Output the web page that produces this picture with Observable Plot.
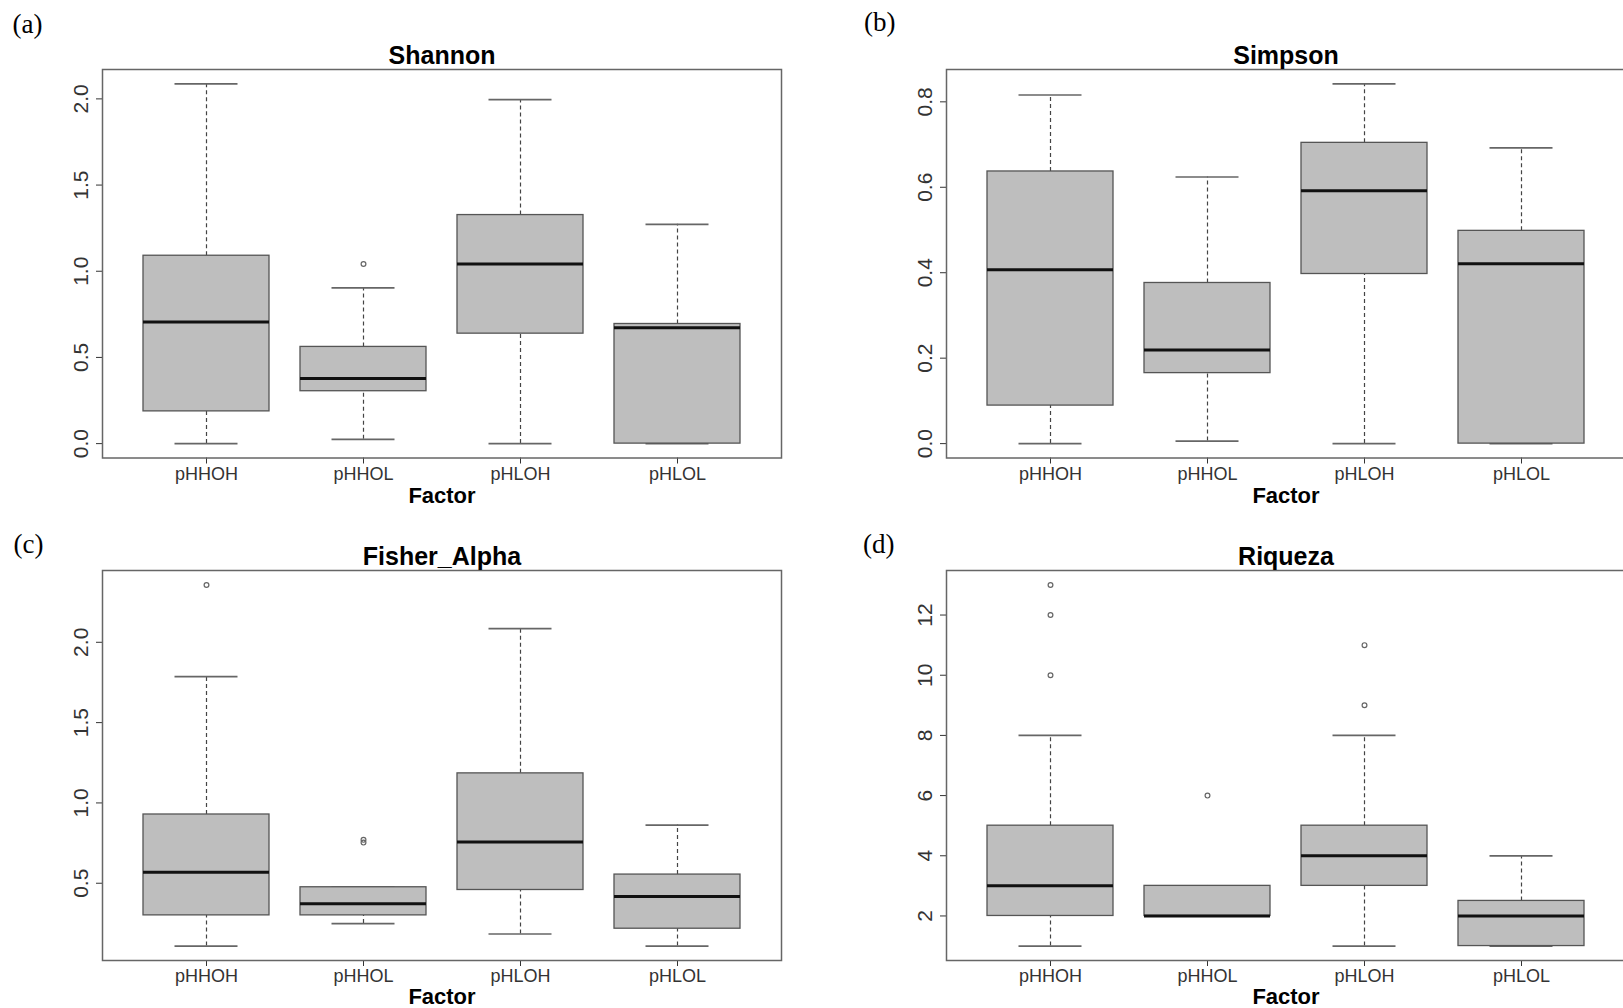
<!DOCTYPE html>
<html>
<head>
<meta charset="utf-8">
<script src="https://cdn.jsdelivr.net/npm/d3@7"></script>
<script src="https://cdn.jsdelivr.net/npm/@observablehq/plot@0.6"></script>
<style>
  html, body { margin: 0; padding: 0; background: #fff; }
  #fig { position: relative; width: 1623px; height: 1008px; overflow: hidden; background: #fff; }
  .panel { position: absolute; width: 800px; }
  .panel svg { overflow: visible; max-width: none !important; display: block; }
</style>
</head>
<body>
<div id="fig"></div>
<script>
// ---------- data ----------
const categories = ["pHHOH", "pHHOL", "pHLOH", "pHLOL"];

// Shannon
const shannonLow    = [0.000, 0.025, 0.000, 0.000];
const shannonQ1     = [0.187, 0.304, 0.638, 0.000];
const shannonMedian = [0.705, 0.378, 1.042, 0.672];
const shannonQ3     = [1.090, 0.561, 1.326, 0.694];
const shannonHigh   = [2.087, 0.904, 1.996, 1.272];
const shannonOutliers = [["pHHOL", 1.042]];
const shannonTicks = [0, 0.5, 1.0, 1.5, 2.0];

// Simpson
const simpsonLow    = [0.000, 0.006, 0.000, 0.000];
const simpsonQ1     = [0.089, 0.165, 0.397, 0.000];
const simpsonMedian = [0.407, 0.219, 0.592, 0.421];
const simpsonQ3     = [0.637, 0.376, 0.704, 0.498];
const simpsonHigh   = [0.816, 0.624, 0.842, 0.692];
const simpsonOutliers = [];
const simpsonTicks = [0, 0.2, 0.4, 0.6, 0.8];

// Fisher_Alpha
const fisherLow    = [0.109, 0.249, 0.184, 0.109];
const fisherQ1     = [0.300, 0.300, 0.458, 0.217];
const fisherMedian = [0.569, 0.373, 0.756, 0.417];
const fisherQ3     = [0.928, 0.475, 1.184, 0.554];
const fisherHigh   = [1.786, 0.475, 2.085, 0.862];
const fisherOutliers = [["pHHOH", 2.357], ["pHHOL", 0.770], ["pHHOL", 0.753]];
const fisherTicks = [0.5, 1.0, 1.5, 2.0];

// Riqueza
const riquezaLow    = [1, 2, 1, 1];
const riquezaQ1     = [2, 2, 3, 1];
const riquezaMedian = [3, 2, 4, 2];
const riquezaQ3     = [5, 3, 5, 2.5];
const riquezaHigh   = [8, 3, 8, 4];
const riquezaOutliers = [["pHHOH", 10], ["pHHOH", 12], ["pHHOH", 13], ["pHHOL", 6], ["pHLOH", 9], ["pHLOH", 11]];
const riquezaTicks = [2, 4, 6, 8, 10, 12];

// ---------- drawing ----------
const SANS = "'Liberation Sans', Arial, Helvetica, sans-serif";
const SERIF = "'Liberation Serif', 'Times New Roman', serif";

function panel(cfg) {
  const rows = categories.map((c, i) => ({
    cat: c, low: cfg.low[i], q1: cfg.q1[i], med: cfg.med[i], q3: cfg.q3[i], high: cfg.high[i]
  }));
  const vals = [...cfg.low, ...cfg.high, ...cfg.outliers.map(d => d[1])];
  const lo = d3.min(vals), hi = d3.max(vals);
  const pad = 0.04 * (hi - lo);

  const W = 800, mL = 102, mR = 19, mT = 69;
  const chart = Plot.plot({
    width: W,
    height: cfg.height,
    marginLeft: mL,
    marginRight: mR,
    marginTop: mT,
    marginBottom: cfg.marginBottom,
    style: { fontFamily: SANS, background: "transparent", overflow: "visible" },
    x: { type: "band", domain: categories, paddingInner: 0.2, paddingOuter: 0.26, label: null },
    y: { domain: [lo - pad, hi + pad], label: null },
    marks: [
      // whiskers (dashed)
      Plot.ruleX(rows, { x: "cat", y1: "q3", y2: "high", stroke: "#444", strokeWidth: 1.2, strokeDasharray: "4,3" }),
      Plot.ruleX(rows, { x: "cat", y1: "low", y2: "q1", stroke: "#444", strokeWidth: 1.2, strokeDasharray: "4,3" }),
      // staples
      Plot.tickY(rows, { x: "cat", y: "high", stroke: "#666", strokeWidth: 1.7, insetLeft: 31.5, insetRight: 31.5 }),
      Plot.tickY(rows, { x: "cat", y: "low", stroke: "#666", strokeWidth: 1.7, insetLeft: 31.5, insetRight: 31.5 }),
      // boxes
      Plot.barY(rows, { x: "cat", y1: "q1", y2: "q3", fill: "#bebebe", stroke: "#555", strokeWidth: 1.3 }),
      // medians
      Plot.tickY(rows, { x: "cat", y: "med", stroke: "#111", strokeWidth: 3 }),
      // outliers
      Plot.dot(cfg.outliers, { x: d => d[0], y: d => d[1], r: 2.4, stroke: "#666", strokeWidth: 1.2, fill: "none" }),
      // axes
      Plot.axisY({ ticks: cfg.ticks, tickFormat: cfg.fmt, tickRotate: -90, tickSize: 6, tickPadding: 9,
                   fontSize: 21, color: "#333", label: null }),
      Plot.axisX({ tickSize: 6, tickPadding: 3, fontSize: 18, color: "#333", label: null }),
      Plot.frame({ stroke: "#666", strokeWidth: 1.5 }),
      // title
      Plot.text([cfg.title], { frameAnchor: "top", dy: -6, lineAnchor: "bottom", fontSize: 25,
                               fontWeight: "bold", fill: "#000", fontFamily: SANS }),
      // x axis title
      Plot.text(["Factor"], { frameAnchor: "bottom", dy: cfg.factorDy, lineAnchor: "bottom", fontSize: 22,
                              fontWeight: "bold", fill: "#000", fontFamily: SANS }),
      // panel letter
      Plot.text([cfg.letter], { frameAnchor: "top-left", dx: cfg.letterDx, dy: cfg.letterDy, textAnchor: "start",
                                lineAnchor: "bottom", fontSize: 27, fill: "#000", fontFamily: SERIF })
    ]
  });
  const wrap = document.createElement("div");
  wrap.className = "panel";
  wrap.style.left = cfg.left + "px";
  wrap.style.top = cfg.top + "px";
  wrap.appendChild(chart);
  document.getElementById("fig").appendChild(wrap);
}

const f1 = d3.format(".1f");
const f0 = d3.format("d");

panel({ title: "Shannon", letter: "(a)", low: shannonLow, q1: shannonQ1, med: shannonMedian, q3: shannonQ3,
        high: shannonHigh, outliers: shannonOutliers, ticks: shannonTicks, fmt: f1,
        left: 0, top: 0, height: 510, marginBottom: 52.5, factorDy: 44.5, letterDx: -90, letterDy: -37 });
panel({ title: "Simpson", letter: "(b)", low: simpsonLow, q1: simpsonQ1, med: simpsonMedian, q3: simpsonQ3,
        high: simpsonHigh, outliers: simpsonOutliers, ticks: simpsonTicks, fmt: f1,
        left: 843.5, top: 0, height: 510, marginBottom: 52.5, factorDy: 44.5, letterDx: -82.5, letterDy: -39 });
panel({ title: "Fisher_Alpha", letter: "(c)", low: fisherLow, q1: fisherQ1, med: fisherMedian, q3: fisherQ3,
        high: fisherHigh, outliers: fisherOutliers, ticks: fisherTicks, fmt: f1,
        left: 0, top: 501, height: 507, marginBottom: 48, factorDy: 43, letterDx: -89, letterDy: -18 });
panel({ title: "Riqueza", letter: "(d)", low: riquezaLow, q1: riquezaQ1, med: riquezaMedian, q3: riquezaQ3,
        high: riquezaHigh, outliers: riquezaOutliers, ticks: riquezaTicks, fmt: f0,
        left: 843.5, top: 501, height: 507, marginBottom: 48, factorDy: 43, letterDx: -83.5, letterDy: -18 });
</script>
</body>
</html>
